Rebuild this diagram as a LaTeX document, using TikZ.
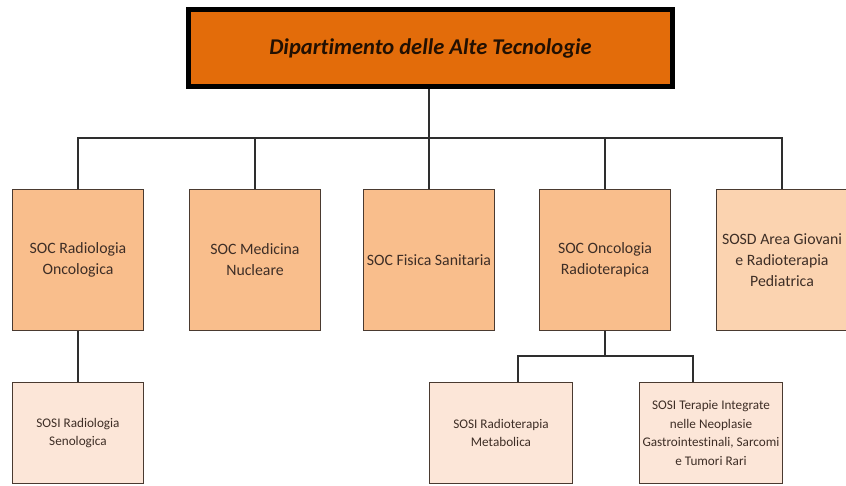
\documentclass[tikz,border=0pt]{standalone}
\usepackage{fontspec}
\setmainfont{Carlito}[Ligatures=NoCommon]
\definecolor{topfill}{HTML}{E36C0A}
\definecolor{lonefill}{HTML}{F9BE8C}
\definecolor{lfivefill}{HTML}{FBD3B0}
\definecolor{ltwofill}{HTML}{FCE6D8}
\definecolor{boxline}{HTML}{4A3A30}
\definecolor{conline}{HTML}{2E2E2E}
\definecolor{txt}{HTML}{3E2E26}
\begin{document}
\begin{tikzpicture}[x=1pt,y=-1pt,
  topbox/.style={draw=black,line width=5pt,fill=topfill,minimum width=484pt,minimum height=77pt,inner sep=0pt,
    font={\fontsize{22.5}{26}\selectfont\bfseries\itshape},text=black!85!topfill},
  lone/.style={draw=boxline,line width=1.2pt,fill=lonefill,minimum width=131pt,minimum height=141pt,inner sep=0pt,
    align=center,text=txt,font={\fontsize{15.8}{21}\selectfont}},
  ltwo/.style={draw=boxline,line width=1.2pt,fill=ltwofill,minimum width=143pt,minimum height=101pt,inner sep=0pt,
    align=center,text=txt,font={\fontsize{13.2}{18.5}\selectfont}},
  con/.style={draw=conline,line width=1.4pt}]
\useasboundingbox (0,0) rectangle (846,485);
% nodes
\node[topbox] (top) at (430.5,48) {Dipar\kern0pt timento delle Alte Tecnologie};
\node[lone] (b1) at (78,260) {SOC Radiologia\\Oncologica};
\node[lone] (b2) at (255,260) {SOC Medicina\\Nucleare};
\node[lone] (b3) at (429,260) {SOC Fisica Sanitaria};
\node[lone] (b4) at (605,260) {SOC Oncologia\\Radioterapica};
\node[lone,fill=lfivefill] (b5) at (782,260) {SOSD Area Giovani\\e Radioterapia\\Pediatrica};
\node[ltwo,minimum width=131pt] (c1) at (78,433) {SOSI Radiologia\\Senologica};
\node[ltwo] (c2) at (501,433) {SOSI Radioterapia\\Metabolica};
\node[ltwo] (c3) at (711,433) {SOSI Terapie Integrate\\nelle Neoplasie\\Gastrointestinali, Sarcomi\\e Tumori Rari};
% junctions
\coordinate (j0) at (429,138);
\coordinate (j1) at (605,356);
\coordinate (jl) at (518,356);
\coordinate (jr) at (693,356);
% connectors
\draw[con] (top.south -| j0) -- (j0);
\draw[con] (b1.north) -- (b1.north |- j0) -- (b5.north |- j0) -- (b5.north);
\draw[con] (b2.north |- j0) -- (b2.north);
\draw[con] (b3.north |- j0) -- (b3.north);
\draw[con] (b4.north |- j0) -- (b4.north);
\draw[con] (b1.south) -- (c1.north);
\draw[con] (b4.south) -- (j1);
\draw[con] (jl |- c2.north) -- (jl) -- (jr) -- (jr |- c3.north);
\end{tikzpicture}
\end{document}
